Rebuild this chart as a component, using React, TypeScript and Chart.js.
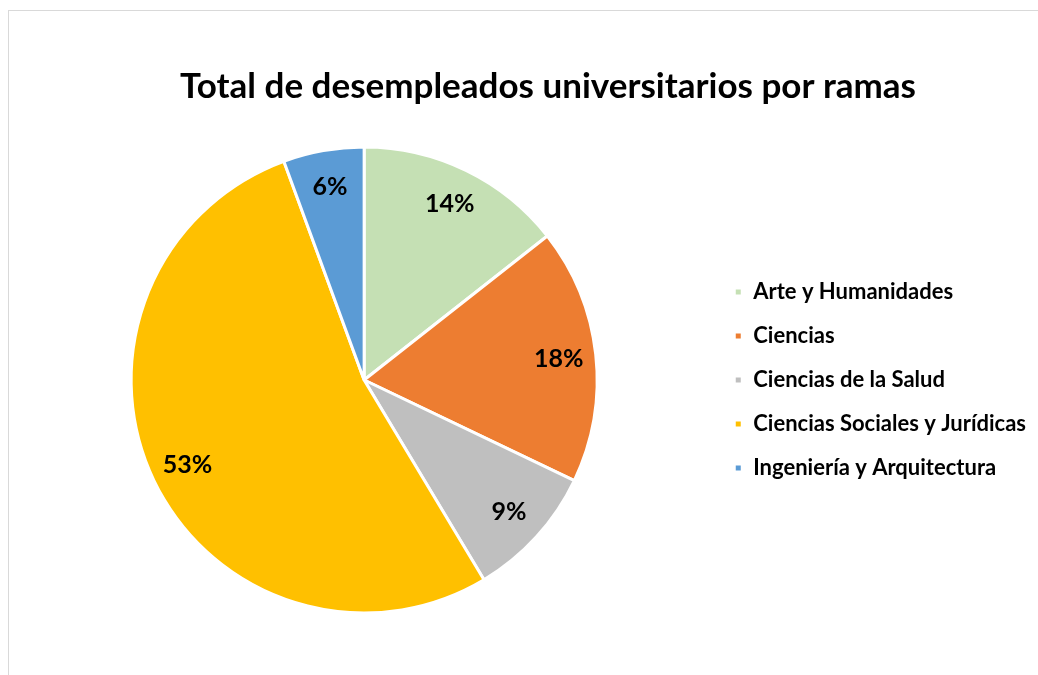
import React, { useEffect, useRef } from "react";
import { Chart, registerables } from "chart.js";

Chart.register(...registerables);

const categories = [
  "Arte y Humanidades",
  "Ciencias",
  "Ciencias de la Salud",
  "Ciencias Sociales y Jurídicas",
  "Ingeniería y Arquitectura",
];
const values = [14.4, 17.7, 9.3, 53.0, 5.6];
const colors = ["#C5E0B4", "#ED7D31", "#BFBFBF", "#FFC000", "#5B9BD5"];
const titleText = "Total de desempleados universitarios por ramas";

const FONT = "Lato, 'Open Sans', sans-serif";

const pctLabels = {
  id: "pctLabels",
  afterDatasetsDraw(chart: any) {
    const ctx = chart.ctx;
    const meta = chart.getDatasetMeta(0);
    const data = chart.data.datasets[0].data as number[];
    const total = data.reduce((a, b) => a + b, 0);
    ctx.save();
    ctx.font = `bold 25px ${FONT}`;
    ctx.fillStyle = "#000000";
    ctx.textAlign = "center";
    ctx.textBaseline = "middle";
    meta.data.forEach((arc: any, i: number) => {
      const { x, y, startAngle, endAngle, outerRadius } = arc.getProps(
        ["x", "y", "startAngle", "endAngle", "outerRadius"],
        true
      );
      const mid = (startAngle + endAngle) / 2;
      const r = outerRadius * 0.84;
      const txt = Math.round((data[i] / total) * 100) + "%";
      ctx.fillText(txt, x + Math.cos(mid) * r, y + Math.sin(mid) * r);
    });
    ctx.restore();
  },
};

// Title centred on the whole chart box (independent of the legend/layout padding)
const centeredTitle = {
  id: "centeredTitle",
  afterDraw(chart: any) {
    const ctx = chart.ctx;
    ctx.save();
    ctx.font = `bold 35px ${FONT}`;
    ctx.fillStyle = "#000000";
    ctx.textAlign = "center";
    ctx.textBaseline = "middle";
    ctx.fillText(titleText, chart.width / 2 - 1, 76);
    ctx.restore();
  },
};

export default function App() {
  const ref = useRef<HTMLCanvasElement>(null);
  useEffect(() => {
    if (!ref.current) return;
    const chart = new Chart(ref.current, {
      type: "pie",
      data: {
        labels: categories,
        datasets: [
          {
            data: values,
            backgroundColor: colors,
            borderColor: "#FFFFFF",
            borderWidth: 3,
            radius: 233,
          } as any,
        ],
      },
      options: {
        animation: false,
        responsive: false,
        maintainAspectRatio: false,
        layout: { padding: { left: 7, right: 53, top: 117, bottom: 79 } },
        plugins: {
          title: { display: false },
          legend: {
            position: "right",
            align: "center",
            fullSize: false,
            labels: {
              boxWidth: 8,
              boxHeight: 8,
              padding: 22,
              color: "#000000",
              font: { family: FONT, size: 22, weight: "bold" },
            },
          },
          tooltip: { enabled: false },
        },
      },
      plugins: [pctLabels, centeredTitle],
    });
    return () => chart.destroy();
  }, []);

  return (
    <div
      style={{
        position: "fixed",
        left: 0,
        top: 0,
        width: 1038,
        height: 675,
        overflow: "hidden",
        background: "#FFFFFF",
      }}
    >
      <div
        style={{
          position: "absolute",
          left: 8,
          top: 10,
          width: 1080,
          height: 700,
          border: "1px solid #D9D9D9",
          background: "#FFFFFF",
        }}
      >
        <canvas ref={ref} width={1080} height={700} style={{ display: "block" }} />
      </div>
    </div>
  );
}
